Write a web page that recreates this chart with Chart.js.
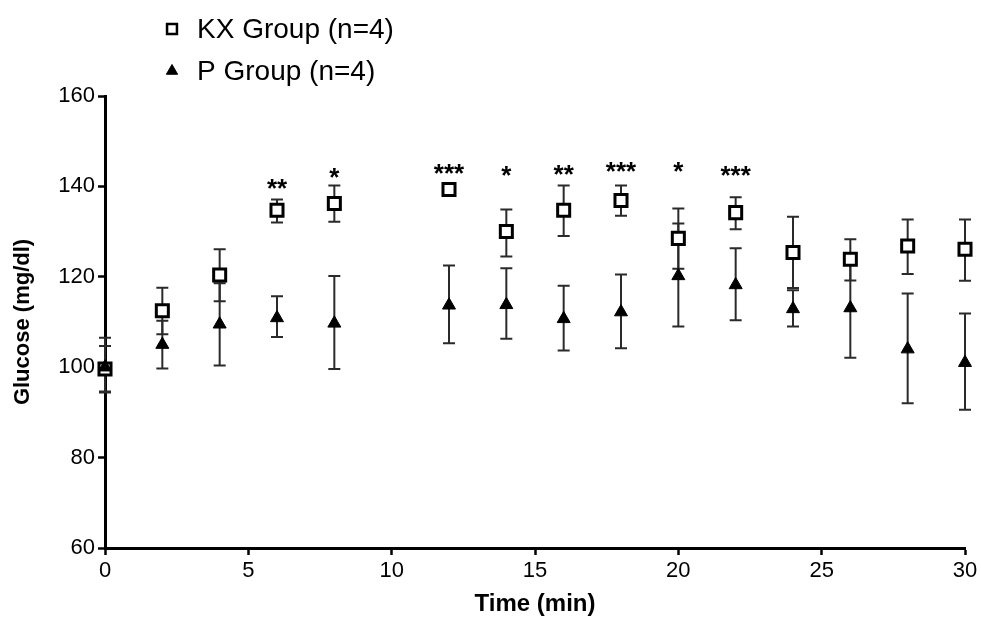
<!DOCTYPE html>
<html><head><meta charset="utf-8">
<script src="https://cdn.jsdelivr.net/npm/chart.js@4.4.1/dist/chart.umd.min.js"></script>
<style>html,body{margin:0;padding:0;background:#fff}#wrap{width:981px;height:620px;position:relative}</style>
</head><body><div id="wrap"><canvas id="c" width="981" height="620"></canvas></div>
<script>
// ---- data ----
const times  = [0, 2, 4, 6, 8, 12, 14, 16, 18, 20, 22, 24, 26, 28, 30];
const kxMean = [99.6, 112.5, 120.4, 134.7, 136.2, 139.3, 130.0, 134.7, 136.9, 128.5, 134.2, 125.4, 123.9, 126.8, 126.1];
const kxHigh = [104.7, 117.6, 126.1, 137.1, 140.2, 140.4, 134.9, 140.2, 140.2, 135.1, 137.6, 133.3, 128.3, 132.7, 132.7];
const kxLow  = [94.6, 107.3, 114.6, 132.0, 132.2, 138.2, 124.5, 129.0, 133.5, 121.8, 130.5, 117.5, 119.2, 120.6, 119.1];
const pMean  = [100.0, 105.0, 109.5, 110.9, 109.7, 113.7, 113.8, 110.7, 112.2, 120.2, 118.2, 112.9, 113.1, 104.0, 101.0];
const pHigh  = [106.5, 110.3, 118.6, 115.7, 120.2, 122.5, 121.9, 118.0, 120.5, 131.8, 126.3, 117.0, 124.1, 116.3, 111.9];
const pLow   = [94.4, 99.7, 100.4, 106.7, 99.6, 105.3, 106.3, 103.7, 104.2, 109.0, 110.4, 109.0, 102.1, 92.0, 90.6];
const starTimes  = [6, 8, 12, 14, 16, 18, 20, 22];
const starLabels = ['**', '*', '***', '*', '**', '***', '*', '***'];
const starY      = [140.9, 143.4, 144.2, 143.7, 144.1, 144.6, 144.6, 143.7];
const xTicks = [0, 5, 10, 15, 20, 25, 30];
const yTicks = [60, 80, 100, 120, 140, 160];
const seriesLabels = ['KX Group (n=4)', 'P Group (n=4)'];

const FONT = "'Liberation Sans', Arial, Helvetica, sans-serif";

const errorBars = {
  id: 'errorBars',
  beforeDatasetsDraw(chart) {
    const ctx = chart.ctx, xs = chart.scales.x, ys = chart.scales.y;
    ctx.save();
    ctx.strokeStyle = '#2a2a2a';
    ctx.lineWidth = 2;
    chart.data.datasets.forEach(ds => {
      ds.data.forEach((p, i) => {
        const x = xs.getPixelForValue(p.x);
        const yh = ys.getPixelForValue(ds.errHigh[i]);
        const yl = ys.getPixelForValue(ds.errLow[i]);
        const w = 6;
        ctx.beginPath();
        ctx.moveTo(x, yh); ctx.lineTo(x, yl);
        ctx.moveTo(x - w, yh); ctx.lineTo(x + w, yh);
        ctx.moveTo(x - w, yl); ctx.lineTo(x + w, yl);
        ctx.stroke();
      });
    });
    ctx.restore();
  }
};

const stars = {
  id: 'stars',
  afterDatasetsDraw(chart) {
    const ctx = chart.ctx, xs = chart.scales.x, ys = chart.scales.y;
    const size = 26;
    ctx.save();
    ctx.fillStyle = '#000';
    ctx.font = 'bold ' + size + 'px ' + FONT;
    ctx.textAlign = 'center';
    ctx.textBaseline = 'alphabetic';
    starTimes.forEach((t, i) => {
      ctx.fillText(starLabels[i], xs.getPixelForValue(t), ys.getPixelForValue(starY[i]) + 0.57 * size);
    });
    ctx.restore();
  }
};

const legendPlugin = {
  id: 'customLegend',
  afterDraw(chart) {
    const ctx = chart.ctx;
    const rows = [29, 71];
    ctx.save();
    chart.data.datasets.forEach((ds, i) => {
      const y = rows[i];
      ctx.fillStyle = ds.pointBackgroundColor;
      ctx.strokeStyle = ds.pointBorderColor;
      ctx.lineWidth = ds.legendBorder;
      Chart.helpers.drawPoint(ctx, {pointStyle: ds.pointStyle, radius: ds.legendRadius, borderWidth: ds.legendBorder, rotation: 0}, 172, y);
      ctx.fillStyle = '#000';
      ctx.font = '28px ' + FONT;
      ctx.textAlign = 'left';
      ctx.textBaseline = 'middle';
      ctx.fillText(ds.label, 197, y + 1);
    });
    ctx.restore();
  }
};

new Chart(document.getElementById('c'), {
  type: 'scatter',
  data: {
    datasets: [
      {
        label: seriesLabels[0],
        data: times.map((t, i) => ({x: t, y: kxMean[i]})),
        pointStyle: 'rect', pointRadius: 8.5, pointHoverRadius: 8.5,
        pointBackgroundColor: '#fff', pointBorderColor: '#000', pointBorderWidth: 3,
        legendRadius: 7, legendBorder: 2.5,
        showLine: false, clip: false, errHigh: kxHigh, errLow: kxLow, order: 1
      },
      {
        label: seriesLabels[1],
        data: times.map((t, i) => ({x: t, y: pMean[i]})),
        pointStyle: 'triangle', pointRadius: 7.5, pointHoverRadius: 7.5,
        pointBackgroundColor: '#000', pointBorderColor: '#000', pointBorderWidth: 1,
        legendRadius: 6.5, legendBorder: 1,
        showLine: false, clip: false, errHigh: pHigh, errLow: pLow, order: 0
      }
    ]
  },
  options: {
    responsive: false,
    animation: false,
    devicePixelRatio: 1,
    layout: {padding: {top: 96, right: 16, left: 0, bottom: 0}},
    plugins: {legend: {display: false}, tooltip: {enabled: false}},
    scales: {
      x: {
        type: 'linear', min: 0, max: 30,
        afterBuildTicks: s => { s.ticks = xTicks.map(v => ({value: v})); },
        afterFit: s => { s.height = 72; },
        grid: {display: true, drawOnChartArea: false, drawTicks: true, tickLength: 7, tickWidth: 2.5, tickColor: '#000'},
        border: {display: true, color: '#000', width: 3},
        ticks: {color: '#000', font: {family: FONT, size: 22}, padding: 3, maxRotation: 0},
        title: {display: true, text: 'Time (min)', color: '#000', font: {family: FONT, size: 24, weight: 'bold'}, padding: {top: 0, bottom: 1}}
      },
      y: {
        type: 'linear', min: 60, max: 160,
        afterBuildTicks: s => { s.ticks = yTicks.map(v => ({value: v})); },
        afterFit: s => { s.width = 105; },
        grid: {display: true, drawOnChartArea: false, drawTicks: true, tickLength: 7, tickWidth: 2.5, tickColor: '#000'},
        border: {display: true, color: '#000', width: 3},
        ticks: {color: '#000', font: {family: FONT, size: 22}, padding: 3},
        title: {display: true, text: 'Glucose (mg/dl)', color: '#000', font: {family: FONT, size: 22, weight: 'bold'}, padding: {top: 10, bottom: 0}}
      }
    }
  },
  plugins: [errorBars, stars, legendPlugin]
});
</script>
</body></html>
